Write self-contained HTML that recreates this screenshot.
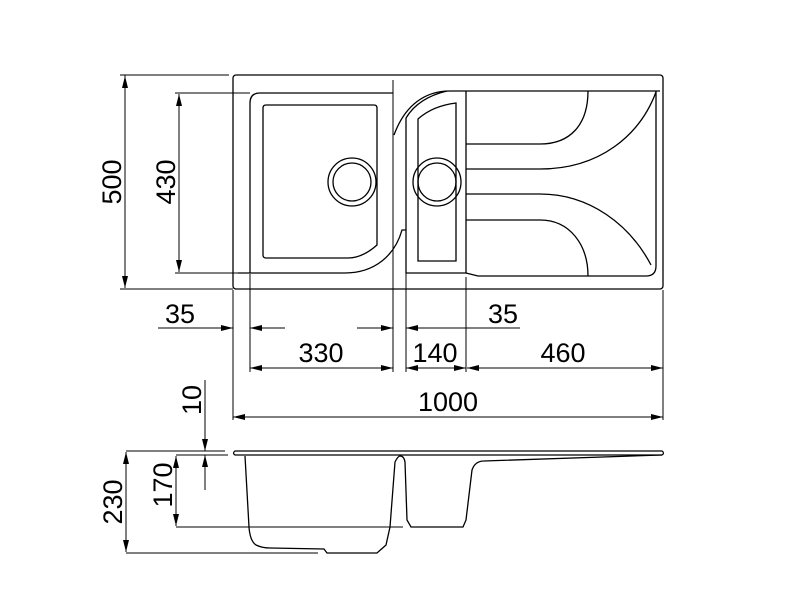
<!DOCTYPE html>
<html><head><style>html,body{margin:0;padding:0;background:#fff}svg{display:block}text{font-family:"Liberation Sans",Arial,sans-serif;font-size:27px;fill:#000}</style></head>
<body>
<svg width="800" height="600" viewBox="0 0 800 600" xmlns="http://www.w3.org/2000/svg">
<defs>
<marker id="a" viewBox="0 0 12 6" refX="12" refY="3" markerWidth="12" markerHeight="6" markerUnits="userSpaceOnUse" orient="auto"><path d="M0,0 L12,3 L0,6 Z" fill="#000"/></marker>
</defs>
<g fill="none" stroke="#000" stroke-width="1.3">
<!-- outer -->
<rect x="233" y="75" width="430" height="214" rx="3"/>
<!-- left bowl outer -->
<path d="M238,273 H345 C375,273 395,255 402,230 L406,230"/>
<path d="M250,273 V103 Q250,93 260,93 H393"/>
<path d="M394,135 C405,105 425,91 450,91 H660"/>
<!-- left inner -->
<path d="M266,105 H374 Q377,105 377,108 V245 C368,253 358,258 348,258 H266 Q263,258 263,255 V108 Q263,105 266,105 Z"/>
<circle cx="352" cy="182" r="24"/><circle cx="352" cy="182" r="19"/>
<!-- mid bowl -->
<path d="M406,118 C415,103 430,95 447,91"/>
<path d="M406,118 V273 H466 V91"/>
<path d="M418,119 C428,110 440,105 456,103 V261 H418 Z"/>
<circle cx="437" cy="182" r="24"/><circle cx="437" cy="182" r="19"/>
<!-- drainer -->
<path d="M466,273 L478,276 H646 Q656,276 656,266 V91"/>
<path d="M466,144 H540 C570,144 588,125 588,91"/>
<path d="M466,169 H540 C600,169 640,135 656,92"/>
<path d="M466,194 H540 C590,194 630,225 651,265"/>
<path d="M466,220 H540 C570,220 588,245 588,276"/>
</g>
<g fill="none" stroke="#000" stroke-width="1">
<!-- extension lines -->
<path d="M120,75 H229 M120,289 H233 M175,93 H250 M175,273 H238"/>
<path d="M233,290 V420 M250,274 V372 M393,80 V372 M406,230 V372 M466,277 V372 M663,290 V420"/>
<path d="M125,151 V75"/>
</g>
<g stroke="#000" stroke-width="1" fill="none">
<line x1="125" y1="182" x2="125" y2="76" marker-end="url(#a)"/>
<line x1="125" y1="182" x2="125" y2="288" marker-end="url(#a)"/>
<line x1="179" y1="182" x2="179" y2="94" marker-end="url(#a)"/>
<line x1="179" y1="182" x2="179" y2="272" marker-end="url(#a)"/>
<line x1="158" y1="328" x2="233" y2="328" marker-end="url(#a)"/>
<line x1="285" y1="328" x2="250" y2="328" marker-end="url(#a)"/>
<line x1="357" y1="328" x2="393" y2="328" marker-end="url(#a)"/>
<line x1="520" y1="328" x2="406" y2="328" marker-end="url(#a)"/>
<line x1="320" y1="368" x2="250" y2="368" marker-end="url(#a)"/>
<line x1="320" y1="368" x2="393" y2="368" marker-end="url(#a)"/>
<line x1="436" y1="368" x2="406" y2="368" marker-end="url(#a)"/>
<line x1="436" y1="368" x2="466" y2="368" marker-end="url(#a)"/>
<line x1="560" y1="368" x2="467" y2="368" marker-end="url(#a)"/>
<line x1="560" y1="368" x2="663" y2="368" marker-end="url(#a)"/>
<line x1="448" y1="417" x2="233" y2="417" marker-end="url(#a)"/>
<line x1="448" y1="417" x2="663" y2="417" marker-end="url(#a)"/>
<!-- side dims -->
<path d="M126,451 H225 M126,553 H318 M176,455 H228 M176,527 H403"/>
<line x1="126" y1="502" x2="126" y2="452" marker-end="url(#a)"/>
<line x1="126" y1="502" x2="126" y2="552" marker-end="url(#a)"/>
<line x1="176" y1="490" x2="176" y2="456" marker-end="url(#a)"/>
<line x1="176" y1="490" x2="176" y2="526" marker-end="url(#a)"/>
<line x1="205" y1="380" x2="205" y2="451" marker-end="url(#a)"/>
<line x1="205" y1="490" x2="205" y2="455" marker-end="url(#a)"/>
</g>
<!-- side view -->
<g fill="none" stroke="#000" stroke-width="1.3">
<path d="M235,451 H662 Q665,453 662,455 H235 Q232,453 235,451 Z"/>
<path d="M245,456 L249,527 Q250,541 256,545 Q262,548 270,548 L324,549 L327,553 H377 L386,545 L390,527 L395,462 Q398,456 400,456 Q404,456 405,462 L407,520 L411,527 H463 L466,520 L472,470 Q475,461 484,461 L662,455"/>
</g>
<text x="180" y="323" text-anchor="middle">35</text>
<text x="503" y="323" text-anchor="middle">35</text>
<text x="321" y="362" text-anchor="middle">330</text>
<text x="435" y="362" text-anchor="middle">140</text>
<text x="563" y="362" text-anchor="middle">460</text>
<text x="448" y="411" text-anchor="middle">1000</text>
<text transform="translate(121,182) rotate(-90)" text-anchor="middle">500</text>
<text transform="translate(175,182) rotate(-90)" text-anchor="middle">430</text>
<text transform="translate(201,400) rotate(-90)" text-anchor="middle">10</text>
<text transform="translate(172,485) rotate(-90)" text-anchor="middle">170</text>
<text transform="translate(122,502) rotate(-90)" text-anchor="middle">230</text>
</svg>
</body></html>
